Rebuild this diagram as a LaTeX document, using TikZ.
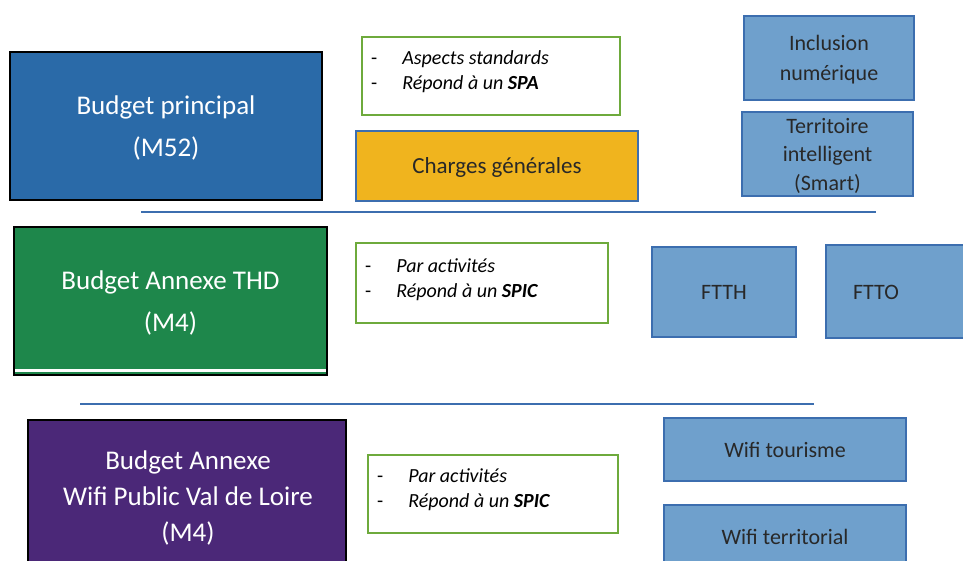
\documentclass[tikz,border=0pt]{standalone}
\usepackage{fontspec}
\setmainfont{Carlito}
\usepackage{xcolor}

\definecolor{bleuBP}{RGB}{42,106,168}
\definecolor{vertTHD}{RGB}{30,135,75}
\definecolor{violetWifi}{RGB}{75,40,120}
\definecolor{orangeCG}{RGB}{240,180,30}
\definecolor{bleuClair}{RGB}{111,160,204}
\definecolor{bleuTrait}{RGB}{60,110,175}
\definecolor{vertCadre}{RGB}{110,170,60}
\definecolor{grisTexte}{RGB}{40,40,40}

\tikzset{
    budget/.style={draw=black, line width=2.5pt, text=white, align=center,
        inner sep=0pt, text depth=0pt, font=\fontsize{27}{42}\selectfont},
    liste/.style={draw=vertCadre, line width=2pt, fill=white, inner sep=0pt},
    activite/.style={draw=bleuTrait, line width=2pt, fill=bleuClair, text=grisTexte,
        align=center, inner sep=0pt, text depth=0pt, font=\fontsize{22}{30}\selectfont},
    puces/.style={anchor=north west, inner sep=0pt, font=\fontsize{20}{25}\selectfont},
    separateur/.style={bleuTrait, line width=2.5pt}
}

\newcommand{\listeSPIC}{%
    \begin{tabular}{@{}l@{\hspace{25pt}}l@{}}
    - & \textit{Par activités}\\
    - & \textit{Répond à un} \textbf{\textit{SPIC}}
    \end{tabular}}

\begin{document}
\begin{tikzpicture}[x=1pt, y=-1pt]
    \useasboundingbox (0,0) rectangle (963,561);

    % Budget principal
    \node[budget, fill=bleuBP, minimum width=312pt, minimum height=148pt] (bp) at (166,126)
        {Budget principal\\(M52)};
    \node[liste, minimum width=258pt, minimum height=78pt] (spa) at (491,76) {};
    \node[puces] (spaTxt) at ([shift={(10,11)}]spa.north west)
        {\begin{tabular}{@{}l@{\hspace{25pt}}l@{}}
         - & \textit{Aspects standards}\\
         - & \textit{Répond à un} \textbf{\textit{SPA}}
         \end{tabular}};
    \node[draw=bleuTrait, line width=2pt, fill=orangeCG, text=grisTexte, inner sep=0pt,
        minimum width=282pt, minimum height=70pt, text depth=0pt, font=\fontsize{23}{24}\selectfont]
        (cg) at (497,166) {Charges générales};
    \node[activite, minimum width=170pt, minimum height=84pt] (incl) at (829,58)
        {Inclusion\\numérique};
    \node[activite, minimum width=171pt, minimum height=84pt, font=\fontsize{22}{28.5}\selectfont]
        (smart) at (827.5,154) {Territoire\\intelligent\\(Smart)};

    % Séparateur
    \draw[separateur] (141,212) -- (876,212);

    % Budget annexe THD
    \node[budget, fill=vertTHD, minimum width=313pt, minimum height=148pt] (thd) at (170.5,301)
        {Budget Annexe THD\\(M4)};
    \draw[white, line width=3pt] ([xshift=2pt, yshift=6pt]thd.south west) -- ([xshift=-2pt, yshift=6pt]thd.south east);
    \node[liste, minimum width=252pt, minimum height=80pt] (spicA) at (482,283) {};
    \node[puces] (spicATxt) at ([shift={(10,13)}]spicA.north west) {\listeSPIC};
    \node[activite, minimum width=144pt, minimum height=90pt] (ftth) at (724,292) {FTTH};
    \node[activite, minimum width=144pt, minimum height=93pt] (ftto) at (898,291.5) {};
    \node[text=grisTexte, text depth=0pt, font=\fontsize{22}{24}\selectfont] (fttoTxt) at (876,292) {FTTO};

    % Séparateur
    \draw[separateur] (80,404) -- (814,404);

    % Budget annexe Wifi
    \node[budget, fill=violetWifi, minimum width=318pt, minimum height=160pt] (wifi) at (187,500) {};
    \node[text=white, align=center, font=\fontsize{27}{36}\selectfont] (wifiTxt) at (188,498)
        {Budget Annexe\\Wifi Public Val de Loire\\(M4)};
    \node[liste, minimum width=250pt, minimum height=78pt] (spicB) at (493,494) {};
    \node[puces] (spicBTxt) at ([shift={(10,11)}]spicB.north west) {\listeSPIC};
    \node[activite, minimum width=242pt, minimum height=63pt] (tour) at (785,449.5) {Wifi tourisme};
    \node[activite, minimum width=242pt, minimum height=70pt] (terr) at (785,540) {};
    \node[text=grisTexte, text depth=0pt, font=\fontsize{22}{24}\selectfont] (terrTxt) at (785,537) {Wifi territorial};
\end{tikzpicture}
\end{document}
